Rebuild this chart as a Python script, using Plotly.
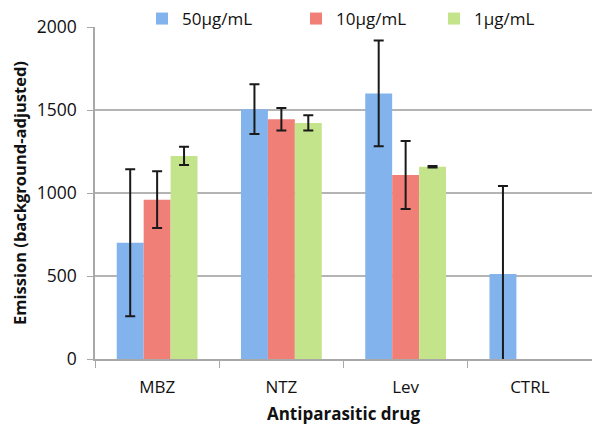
import plotly.graph_objects as go

categories = ["MBZ", "NTZ", "Lev", "CTRL"]
series_names = ["50μg/mL", "10μg/mL", "1μg/mL"]
vals_50 = [700, 1505, 1600, 512]
err_50 = [443, 150, 318, 530]
vals_10 = [960, 1444, 1108, None]
err_10 = [171, 68, 205, None]
vals_1 = [1223, 1422, 1158, None]
err_1 = [55, 46, 5, None]
y_ticks = [0, 500, 1000, 1500, 2000]

colors = ["#82b3ec", "#f07f77", "#c4e48c"]
legend_ids = ["legend", "legend2", "legend3"]
legend_x_px = [134, 288, 426]
font_family = "Open Sans, Lato, sans-serif"

fig = go.Figure()
for name, vals, errs, col, lg in zip(series_names, [vals_50, vals_10, vals_1],
                                     [err_50, err_10, err_1], colors, legend_ids):
    fig.add_trace(go.Bar(
        x=categories, y=vals, name=name, legend=lg,
        marker=dict(color=col, line=dict(width=0)),
        error_y=dict(type="data", array=errs, visible=True,
                     color="#1a1a1a", thickness=2, width=5),
    ))

legend_common = dict(orientation="h", xref="container", yref="container",
                     y=1 - 11 / 428, yanchor="middle", xanchor="left",
                     font=dict(size=17), bgcolor="rgba(0,0,0,0)", borderwidth=0)

fig.update_layout(
    width=600, height=428,
    margin=dict(l=87, r=16, t=19, b=77, autoexpand=False),
    paper_bgcolor="white", plot_bgcolor="white",
    barmode="group", bargap=0.35, bargroupgap=0,
    font=dict(family=font_family, size=17, color="#111111"),
    showlegend=True,
    legend=dict(x=legend_x_px[0] / 600, **legend_common),
    legend2=dict(x=legend_x_px[1] / 600, **legend_common),
    legend3=dict(x=legend_x_px[2] / 600, **legend_common),
    xaxis=dict(
        title=dict(text="<b>Antiparasitic drug</b>", font=dict(size=17), standoff=11),
        showline=True, linecolor="#a8a8a8", linewidth=1.5,
        ticks="outside", tickson="boundaries", ticklen=7, tickcolor="#a8a8a8",
        ticklabelstandoff=12,
        tickfont=dict(size=17), showgrid=False,
    ),
    yaxis=dict(
        title=dict(text="<b>Emission (background-adjusted)</b>", font=dict(size=16.5), standoff=12),
        range=[0, 2000], tickvals=y_ticks,
        showline=True, linecolor="#a8a8a8", linewidth=1.5,
        ticks="outside", ticklen=6, tickcolor="#a8a8a8",
        ticklabelstandoff=7,
        showgrid=True, gridcolor="#b4b4b4", gridwidth=1.5,
        tickfont=dict(size=17.5), zeroline=False,
    ),
)

fig.write_html("out.html")
